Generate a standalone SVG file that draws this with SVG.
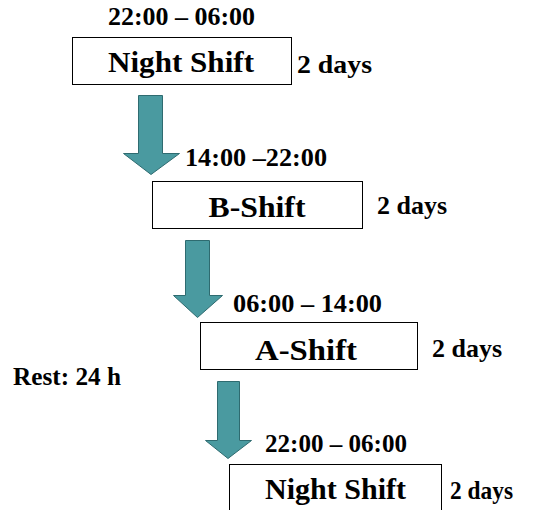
<svg xmlns="http://www.w3.org/2000/svg" width="542" height="510" viewBox="0 0 542 510">
  <style>
    .box { fill: #ffffff; stroke: #000000; stroke-width: 1; }
    .t { font-family: "Liberation Serif", "Times New Roman", serif; font-weight: bold; fill: #000000; }
    .name { font-size: 30px; text-anchor: middle; }
    .time { font-size: 25px; }
    .dur { font-size: 25px; }
    .arrow { fill: #4a9aa0; stroke: #2e6b70; stroke-width: 1; }
  </style>
  <rect width="542" height="510" fill="#ffffff"/>

  <!-- block arrows between the shifts -->
  <g id="connectors">
    <path class="arrow" d="M138.5,95.5 H162.5 V153.5 H179.5 L151,174.5 L123.5,153.5 H138.5 Z"/>
    <path class="arrow" d="M185.5,240.5 H209.5 V295.5 H222.5 L197.5,317.5 L173.5,295.5 H185.5 Z"/>
    <path class="arrow" d="M217.5,381.5 H239.5 V440.5 H251.5 L228,458.5 L205.5,440.5 H217.5 Z"/>
  </g>

  <g id="night-shift-1">
    <text class="t time" x="108" y="25" textLength="147" lengthAdjust="spacingAndGlyphs">22:00 – 06:00</text>
    <rect class="box" x="72.5" y="37.5" width="219" height="47"/>
    <text class="t name" x="181" y="72" textLength="146" lengthAdjust="spacingAndGlyphs">Night Shift</text>
    <text class="t dur" x="297" y="73" textLength="75" lengthAdjust="spacingAndGlyphs">2 days</text>
  </g>

  <g id="b-shift">
    <text class="t time" x="185" y="166" textLength="142" lengthAdjust="spacingAndGlyphs">14:00 –22:00</text>
    <rect class="box" x="152.5" y="181.5" width="210" height="47"/>
    <text class="t name" x="257" y="217" textLength="97" lengthAdjust="spacingAndGlyphs">B-Shift</text>
    <text class="t dur" x="377" y="214" textLength="70" lengthAdjust="spacingAndGlyphs">2 days</text>
  </g>

  <g id="a-shift">
    <text class="t time" x="233" y="312" textLength="149" lengthAdjust="spacingAndGlyphs">06:00 – 14:00</text>
    <rect class="box" x="200.5" y="322.5" width="217" height="47"/>
    <text class="t name" x="306" y="360" textLength="102" lengthAdjust="spacingAndGlyphs">A-Shift</text>
    <text class="t dur" x="432" y="357" textLength="70" lengthAdjust="spacingAndGlyphs">2 days</text>
  </g>

  <g id="rest">
    <text class="t dur" x="13" y="385" textLength="108" lengthAdjust="spacingAndGlyphs">Rest: 24 h</text>
  </g>

  <g id="night-shift-2">
    <text class="t time" x="265" y="452" textLength="142" lengthAdjust="spacingAndGlyphs">22:00 – 06:00</text>
    <rect class="box" x="229.5" y="464.5" width="212" height="60"/>
    <text class="t name" x="335.5" y="499" textLength="141" lengthAdjust="spacingAndGlyphs">Night Shift</text>
    <text class="t dur" x="450" y="499" textLength="63" lengthAdjust="spacingAndGlyphs">2 days</text>
  </g>
</svg>
